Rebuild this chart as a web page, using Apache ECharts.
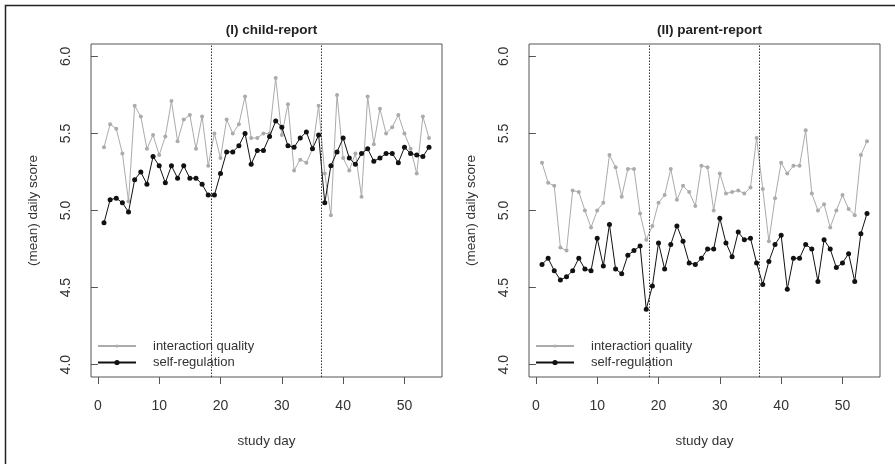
<!DOCTYPE html>
<html>
<head>
<meta charset="utf-8">
<script src="https://cdn.jsdelivr.net/npm/echarts@6/dist/echarts.min.js"></script>
<style>
html,body{margin:0;padding:0;background:#fff;}
#chart{width:895px;height:464px;}
</style>
</head>
<body>
<div id="chart"></div>
<script>
// ---- data ----
var days = [];
for (var i = 1; i <= 54; i++) days.push(i);

var panelTitles = ['(I) child-report', '(II) parent-report'];
var seriesNames = ['interaction quality', 'self-regulation'];
var xTicks = [0, 10, 20, 30, 40, 50];
var yTicks = [4.0, 4.5, 5.0, 5.5, 6.0];
var phaseBreaks = [18.5, 36.5];

var childInteraction = [5.41, 5.56, 5.53, 5.37, 5.06, 5.68, 5.61, 5.40, 5.49, 5.36,
  5.48, 5.71, 5.45, 5.59, 5.62, 5.40, 5.61, 5.29, 5.50, 5.34,
  5.59, 5.50, 5.56, 5.74, 5.47, 5.47, 5.50, 5.50, 5.86, 5.49,
  5.69, 5.26, 5.33, 5.31, 5.40, 5.68, 5.24, 4.97, 5.75, 5.34,
  5.26, 5.37, 5.09, 5.74, 5.43, 5.66, 5.50, 5.54, 5.62, 5.50,
  5.40, 5.24, 5.61, 5.47];
var childSelfReg = [4.92, 5.07, 5.08, 5.05, 4.99, 5.20, 5.25, 5.17, 5.35, 5.29,
  5.18, 5.29, 5.21, 5.29, 5.21, 5.21, 5.17, 5.10, 5.10, 5.24,
  5.38, 5.38, 5.42, 5.50, 5.30, 5.39, 5.39, 5.48, 5.58, 5.54,
  5.42, 5.41, 5.47, 5.51, 5.40, 5.49, 5.05, 5.29, 5.38, 5.47,
  5.34, 5.30, 5.37, 5.40, 5.32, 5.34, 5.37, 5.37, 5.31, 5.41,
  5.37, 5.36, 5.35, 5.41];
var parentInteraction = [5.31, 5.18, 5.16, 4.76, 4.74, 5.13, 5.12, 5.00, 4.89, 5.00,
  5.05, 5.36, 5.28, 5.09, 5.27, 5.27, 4.98, 4.81, 4.90, 5.05,
  5.10, 5.27, 5.07, 5.16, 5.12, 5.03, 5.29, 5.28, 5.00, 5.24,
  5.11, 5.12, 5.13, 5.11, 5.15, 5.47, 5.14, 4.80, 5.08, 5.31,
  5.24, 5.29, 5.29, 5.52, 5.11, 5.00, 5.04, 4.89, 5.00, 5.10,
  5.01, 4.97, 5.36, 5.45];
var parentSelfReg = [4.65, 4.69, 4.61, 4.55, 4.57, 4.61, 4.69, 4.62, 4.61, 4.82,
  4.64, 4.91, 4.62, 4.59, 4.71, 4.74, 4.77, 4.36, 4.51, 4.79,
  4.62, 4.78, 4.90, 4.80, 4.66, 4.65, 4.69, 4.75, 4.75, 4.95,
  4.79, 4.70, 4.86, 4.81, 4.82, 4.66, 4.52, 4.67, 4.78, 4.84,
  4.49, 4.69, 4.69, 4.78, 4.75, 4.54, 4.81, 4.75, 4.63, 4.66,
  4.72, 4.54, 4.85, 4.98];

// ---- styling ----
var FONT = 'Liberation Sans, Arial, sans-serif';
var TXT = '#333';
var GRAY = '#ababab';
var BLACK = '#111';
var gridLefts = [91, 529];

function pairs(vals) {
  return vals.map(function (v, i) { return [days[i], v]; });
}

var grids = [], xAxes = [], yAxes = [], series = [], titles = [], legends = [];
var panels = [[childInteraction, childSelfReg], [parentInteraction, parentSelfReg]];
var legendTops = [339.5, 356];
var legendIconH = [4, 6.5];

panels.forEach(function (p, k) {
  grids.push({
    left: gridLefts[k], top: 44, width: 351, height: 333,
    show: true, borderColor: '#555', borderWidth: 1, backgroundColor: 'transparent'
  });
  xAxes.push({
    type: 'value', gridIndex: k, min: -1.12, max: 56.12,
    name: 'study day', nameLocation: 'middle', nameGap: 57,
    nameTextStyle: { fontFamily: FONT, fontSize: 13.5, color: TXT },
    axisLine: { show: false },
    axisTick: { show: true, inside: false, length: 7, customValues: xTicks, lineStyle: { color: '#555' } },
    axisLabel: { customValues: xTicks, margin: 22, fontFamily: FONT, fontSize: 14, color: TXT },
    splitLine: { show: false }
  });
  yAxes.push({
    type: 'value', gridIndex: k, min: 3.92, max: 6.08,
    name: '(mean) daily score', nameLocation: 'middle', nameGap: 51,
    nameTextStyle: { fontFamily: FONT, fontSize: 13.5, color: TXT },
    axisLine: { show: false },
    axisTick: { show: true, inside: false, length: 7, customValues: yTicks, lineStyle: { color: '#555' } },
    axisLabel: {
      customValues: yTicks, rotate: 90, margin: 18, fontFamily: FONT, fontSize: 14, color: TXT,
      formatter: function (v) { return Number(v).toFixed(1); }
    },
    splitLine: { show: false }
  });
  series.push({
    name: seriesNames[0], type: 'line', xAxisIndex: k, yAxisIndex: k,
    data: pairs(p[0]), symbol: 'circle', symbolSize: 4, showSymbol: true,
    lineStyle: { color: GRAY, width: 1 }, itemStyle: { color: GRAY },
    animation: false, z: 2,
    markLine: {
      silent: true, symbol: ['none', 'none'], label: { show: false },
      lineStyle: { color: '#333', width: 1, type: [1.5, 1.5] },
      data: phaseBreaks.map(function (b) { return { xAxis: b }; })
    }
  });
  series.push({
    name: seriesNames[1], type: 'line', xAxisIndex: k, yAxisIndex: k,
    data: pairs(p[1]), symbol: 'circle', symbolSize: 5, showSymbol: true,
    lineStyle: { color: BLACK, width: 1 }, itemStyle: { color: BLACK },
    animation: false, z: 3
  });
  titles.push({
    text: panelTitles[k], left: gridLefts[k] + 175.5, top: 18, textAlign: 'center',
    textStyle: { fontFamily: FONT, fontSize: 13.5, fontWeight: 'bold', color: '#222' }
  });
  seriesNames.forEach(function (nm, j) {
    legends.push({
      data: [nm], orient: 'vertical', left: gridLefts[k] + 6, top: legendTops[j], padding: 0,
      itemWidth: 38, itemHeight: legendIconH[j], selectedMode: false,
      textStyle: { fontFamily: FONT, fontSize: 13, color: TXT, padding: [0, 0, 0, 12] }
    });
  });
});

var chart = echarts.init(document.getElementById('chart'), null, { renderer: 'canvas' });
chart.setOption({
  animation: false,
  backgroundColor: '#fff',
  title: titles,
  legend: legends,
  grid: grids,
  xAxis: xAxes,
  yAxis: yAxes,
  series: series,
  graphic: [{
    type: 'rect', shape: { x: 5.5, y: 5.5, width: 900, height: 470 },
    style: { fill: 'none', stroke: '#222', lineWidth: 1.5 }, silent: true
  }]
});
</script>
</body>
</html>
